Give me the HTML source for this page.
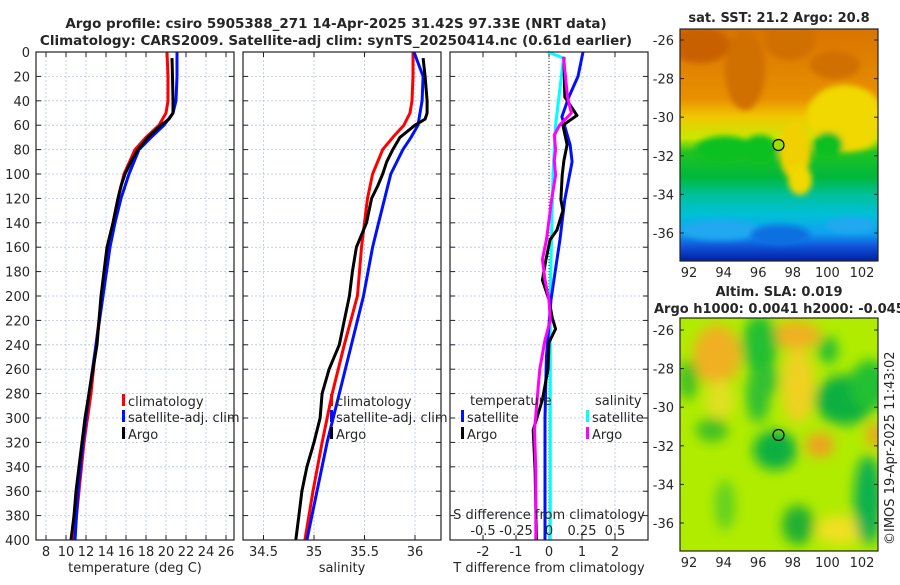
<!DOCTYPE html>
<html><head><meta charset="utf-8"><style>
body{margin:0;background:#fff;}
svg text{font-family:"DejaVu Sans","Liberation Sans",sans-serif;fill:#262626;}
</style></head><body>
<svg id="c" width="900" height="580" xmlns="http://www.w3.org/2000/svg">
<defs>
<linearGradient id="sstg" x1="0" y1="0" x2="0" y2="1">
<stop offset="0" stop-color="#d87400"/><stop offset="0.3" stop-color="#e89000"/>
<stop offset="0.38" stop-color="#f0c800"/><stop offset="0.47" stop-color="#c8e800"/>
<stop offset="0.53" stop-color="#20c420"/><stop offset="0.64" stop-color="#00b83c"/>
<stop offset="0.72" stop-color="#00c0a0"/><stop offset="0.8" stop-color="#00c0d8"/>
<stop offset="0.88" stop-color="#10a0f0"/><stop offset="0.94" stop-color="#1050d8"/><stop offset="1" stop-color="#0020a0"/>
</linearGradient>
<filter id="bl"><feGaussianBlur stdDeviation="6"/></filter>
<filter id="bl2"><feGaussianBlur stdDeviation="3"/></filter>
<clipPath id="m1"><rect x="680" y="29" width="198" height="232"/></clipPath>
<clipPath id="m2"><rect x="680" y="318" width="198" height="233"/></clipPath>
</defs>
<g id="g"></g>
</svg>
<script>
// ---- data ----
const depthRed=[0,20,40,50,60,70,80,100,120,140,160,180,200,240,280,320,360,400];
const tempClim=[20.1,20.2,20.2,20.0,19.3,18.0,16.9,15.8,15.2,14.7,14.2,13.9,13.6,13.0,12.5,11.8,11.3,10.8];
const depthBlue=[0,20,40,50,60,70,80,100,120,140,160,200,240,280,320,360,400];
const tempSat=[21.1,21.1,21.0,20.7,19.8,18.5,17.3,16.3,15.5,14.9,14.4,13.7,13.0,12.3,11.7,11.2,10.9];
const depthArgo=[5,20,40,50,55,60,70,80,90,100,110,120,140,160,180,200,220,240,260,280,300,320,340,360,380,400];
const tempArgo=[20.6,20.65,20.7,20.7,20.3,19.5,18.2,17.2,16.5,15.9,15.5,15.2,14.7,14.1,13.8,13.5,13.3,13.1,12.7,12.3,11.9,11.6,11.3,11.0,10.8,10.5];
const salClim=[35.98,35.98,35.97,35.95,35.89,35.78,35.68,35.58,35.53,35.5,35.47,35.45,35.43,35.3,35.18,35.08,34.99,34.91];
const salSat=[35.99,36.08,36.07,36.05,36.03,35.96,35.88,35.76,35.7,35.64,35.58,35.49,35.37,35.25,35.13,35.03,34.93];
const salArgo=[36.08,36.1,36.12,36.12,36.1,36.0,35.85,35.78,35.72,35.68,35.63,35.57,35.52,35.42,35.38,35.35,35.3,35.25,35.15,35.08,35.06,35.0,34.93,34.88,34.85,34.82];
const depthDT=[0,20,37,53,76,90,121,154,203,250,300,400];
const dTSat=[1.03,0.88,0.6,0.39,0.64,0.7,0.48,0.33,0.06,-0.08,-0.12,-0.12];
const depthDTA=[4,37,52,60,76,89,101,121,130,146,154,170,187,203,218,227,238,260,285,310,343,384,400];
const dTArgo=[0.45,0.48,0.85,0.42,0.55,0.45,0.4,0.36,0.42,0.24,0.03,-0.09,-0.2,0.0,0.1,0.2,0.0,-0.03,-0.2,-0.48,-0.42,-0.39,-0.38];
const depthDS=[0,5,60,100,200,300,400];
const dSSat=[-0.01,0.11,0.05,0.03,0.01,0.01,0.01];
const depthDSA=[4,37,50,60,68,80,89,101,121,138,154,170,187,203,220,236,260,285,310,343,384,400];
const dSArgo=[0.11,0.14,0.17,0.08,0.04,0.05,0.04,0.05,0.02,0.0,-0.02,-0.05,-0.03,0.0,0.01,-0.03,-0.07,-0.09,-0.11,-0.1,-0.1,-0.1];
const depthTicks=[0,20,40,60,80,100,120,140,160,180,200,220,240,260,280,300,320,340,360,380,400];
const tTicks=[8,10,12,14,16,18,20,22,24,26];
const sTicks=[34.5,35,35.5,36];
const dTTicks=[-2,-1,0,1,2];
const dSTicks=[-0.5,-0.25,0,0.25,0.5];
const latTicks=[-26,-28,-30,-32,-34,-36];
const lonTicks=[92,94,96,98,100,102];

// ---- axes ----
const Y=d=>52+d*1.22;
const xT=t=>46+(t-8)*10;
const xS=s=>314+(s-35)*101;
const xDT=v=>549+v*33;
const xDS=v=>549+v*132;
const P=[{x:36,n:'temperature-panel'},{x:243,n:'salinity-panel'},{x:450,n:'difference-panel'}];
const W=198,H=488;
const NS='http://www.w3.org/2000/svg';
const G=document.getElementById('g');
function el(tag,at,parent){const e=document.createElementNS(NS,tag);for(const k in at)e.setAttribute(k,at[k]);(parent||G).appendChild(e);return e;}
function txt(x,y,s,at,parent){const e=el('text',Object.assign({x:x,y:y},at||{}),parent);e.textContent=s;return e;}

P.forEach((p,i)=>{
  const g=el('g',{});
  
  
  el('rect',{x:p.x,y:52,width:W,height:H,fill:'#fff'},g);
  depthTicks.forEach(d=>{ if(d>0&&d<400) el('line',{x1:p.x,x2:p.x+W,y1:Y(d),y2:Y(d),stroke:'#b8c4e8','stroke-width':0.8,'stroke-dasharray':'2,2'},g);
    el('line',{x1:p.x,x2:p.x+5,y1:Y(d),y2:Y(d),stroke:'#222'},g);
    el('line',{x1:p.x+W-5,x2:p.x+W,y1:Y(d),y2:Y(d),stroke:'#222'},g);});
  const xt = i==0?tTicks.map(xT):i==1?sTicks.map(xS):dTTicks.map(xDT);
  xt.forEach(x=>{el('line',{x1:x,x2:x,y1:52,y2:540,stroke:'#b8c4e8','stroke-width':0.8,'stroke-dasharray':'2,2'},g);
    el('line',{x1:x,x2:x,y1:540,y2:535,stroke:'#222'},g);el('line',{x1:x,x2:x,y1:52,y2:57,stroke:'#222'},g);});
  if(i==0){depthTicks.forEach(d=>{const t=txt(30,Y(d)+5,String(d),{'font-size':13,'text-anchor':'end'},g);});
    tTicks.forEach(t=>{const e=txt(xT(t),556,String(t),{'font-size':13,'text-anchor':'middle'});});}
  if(i==1)sTicks.forEach(t=>{const e=txt(xS(t),556,String(t),{'font-size':13,'text-anchor':'middle'});});
  if(i==2){dTTicks.forEach(t=>{const e=txt(xDT(t),556,String(t),{'font-size':13,'text-anchor':'middle'});});
    el('line',{x1:xDT(0),x2:xDT(0),y1:52,y2:540,stroke:'#333','stroke-width':1,'stroke-dasharray':'1,2'},g);}
});

function line(xs,ds,fx,col,name,w){
  const pts=xs.map((v,k)=>fx(v).toFixed(1)+','+Y(ds[k]).toFixed(1)).join(' ');
  const e=el('polyline',{points:pts,fill:'none',stroke:col,'stroke-width':w||3,'stroke-linejoin':'round'});
  
  
}
line(tempClim,depthRed,xT,'#ff0000','temp-climatology-line');
line(tempSat,depthBlue,xT,'#0010ff','temp-satellite-line');
line(tempArgo,depthArgo,xT,'#000','temp-argo-line');
line(salClim,depthRed,xS,'#ff0000','sal-climatology-line');
line(salSat,depthBlue,xS,'#0010ff','sal-satellite-line');
line(salArgo,depthArgo,xS,'#000','sal-argo-line');
line(dSSat,depthDS,xDS,'#00ffff','sal-diff-satellite-line');
line(dTSat,depthDT,xDT,'#0010ff','temp-diff-satellite-line');
line(dTArgo,depthDTA,xDT,'#000','temp-diff-argo-line');
line(dSArgo,depthDSA,xDS,'#ff00ff','sal-diff-argo-line');

// frames
P.forEach(p=>el('rect',{x:p.x,y:52,width:W,height:H,fill:'none',stroke:'#222','stroke-width':1.2}));

// legends
function leg(x,y,col,label,name){const g=el('g',{});
  el('rect',{x:x,y:y-7,width:3,height:12,fill:col},g);txt(x+6,y+5,label,{'font-size':13},g);}
leg(122,401,'#ff0000','climatology','legend-climatology');
leg(122,417,'#0010ff','satellite-adj. clim','legend-satellite');
leg(122,434,'#000','Argo','legend-argo');
leg(330,401,'#ff0000','climatology','legend-climatology-2');
leg(330,417,'#0010ff','satellite-adj. clim','legend-satellite-2');
leg(330,434,'#000','Argo','legend-argo-2');
txt(470,405,'temperature',{'font-size':13});
leg(461,417,'#0010ff','satellite','legend-temp-satellite');
leg(461,434,'#000','Argo','legend-temp-argo');
txt(595,405,'salinity',{'font-size':13});
leg(586,417,'#00ffff','satellite','legend-sal-satellite');
leg(586,434,'#ff00ff','Argo','legend-sal-argo');

// S axis inside
txt(549,519,'S difference from climatology',{'font-size':13,'text-anchor':'middle'});
dSTicks.forEach(t=>{const e=txt(xDS(t),535,String(t),{'font-size':13,'text-anchor':'middle'});});

// axis labels / titles
txt(135,572,'temperature (deg C)',{'font-size':13,'text-anchor':'middle'});
txt(342,572,'salinity',{'font-size':13,'text-anchor':'middle'});
txt(549,572,'T difference from climatology',{'font-size':13,'text-anchor':'middle'});
txt(336,28,'Argo profile: csiro 5905388_271 14-Apr-2025 31.42S 97.33E (NRT data)',{'font-size':13.5,'font-weight':'bold','text-anchor':'middle',fill:'#000'});
txt(336,45,'Climatology: CARS2009. Satellite-adj clim: synTS_20250414.nc (0.61d earlier)',{'font-size':13.5,'font-weight':'bold','text-anchor':'middle',fill:'#000'});

// maps
const lonX=l=>689+(l-92)*17.3;
function mapAxes(y0,h,lat0){
  latTicks.forEach(l=>{const y=lat0+(-26-l)*19.3;txt(674,y+5,String(l),{'font-size':13,'text-anchor':'end'});
    el('line',{x1:878,x2:874,y1:y,y2:y,stroke:'#222'});el('line',{x1:680,x2:684,y1:y,y2:y,stroke:'#222'});});
  lonTicks.forEach(l=>{txt(lonX(l),y0+h+16,String(l),{'font-size':13,'text-anchor':'middle'});});
  el('rect',{x:680,y:y0,width:198,height:h,fill:'none',stroke:'#222','stroke-width':1.2});
}
const m1=el('g',{'clip-path':'url(#m1)'});
el('rect',{x:680,y:29,width:198,height:232,fill:'url(#sstg)'},m1);
const bl1=el('g',{filter:'url(#bl2)'},m1);
[[700,45,30,18,'#c86000'],[745,70,20,40,'#d07000'],[790,40,25,20,'#d07000'],[835,65,25,14,'#d07000'],
 [845,115,38,30,'#f0d800'],[795,150,16,30,'#f0d000'],[800,180,12,15,'#f0d800'],[845,140,30,12,'#f0d800'],
 [725,150,30,14,'#10c020'],[760,150,18,15,'#10c020'],[828,145,15,13,'#10c020'],
 [720,230,40,10,'#20a8f0'],[780,235,30,10,'#1070e0'],[850,225,25,8,'#20a8f0']].forEach(a=>el('ellipse',{cx:a[0],cy:a[1],rx:a[2],ry:a[3],fill:a[4]},bl1));
el('circle',{cx:778.5,cy:145,r:5.5,fill:'#9ce000',stroke:'#000','stroke-width':1.2});
mapAxes(29,232,40);
txt(779,22,'sat. SST: 21.2 Argo: 20.8',{'font-size':13,'font-weight':'bold','text-anchor':'middle',fill:'#000'});

const m2=el('g',{'clip-path':'url(#m2)'});
el('rect',{x:680,y:318,width:198,height:233,fill:'#b0ec00'},m2);
const bl=el('g',{filter:'url(#bl)'},m2);
[[717,355,24,30,'#f0b020'],[796,335,25,14,'#f0b020'],[798,385,16,38,'#f0d020'],[820,445,14,12,'#f0a020'],[875,435,8,12,'#f0a020'],[840,530,25,14,'#f0e020'],[720,400,14,20,'#e0e020'],
 [760,345,18,30,'#20c030'],[758,395,12,28,'#30c030'],[775,450,22,20,'#10b040'],[845,400,30,25,'#10b040'],[870,385,20,25,'#20c030'],[868,500,14,45,'#10b050'],[798,525,16,20,'#20b030'],[712,430,16,12,'#40c020'],[688,380,10,20,'#40c020'],[725,505,10,25,'#60d020'],[828,350,10,14,'#20c030'],[770,380,8,15,'#30c030']].forEach(a=>el('ellipse',{cx:a[0],cy:a[1],rx:a[2],ry:a[3],fill:a[4]},bl));
el('circle',{cx:778.5,cy:435,r:5.5,fill:'none',stroke:'#000','stroke-width':1.2});
mapAxes(318,233,330);
txt(779,296,'Altim. SLA: 0.019',{'font-size':13,'font-weight':'bold','text-anchor':'middle',fill:'#000'});
txt(654,313,'Argo h1000: 0.0041 h2000: -0.045',{'font-size':13,'font-weight':'bold',fill:'#000'});
txt(0,0,'©IMOS 19-Apr-2025 11:43:02',{'font-size':13,transform:'translate(894,545) rotate(-90)'});
</script>
</body></html>
